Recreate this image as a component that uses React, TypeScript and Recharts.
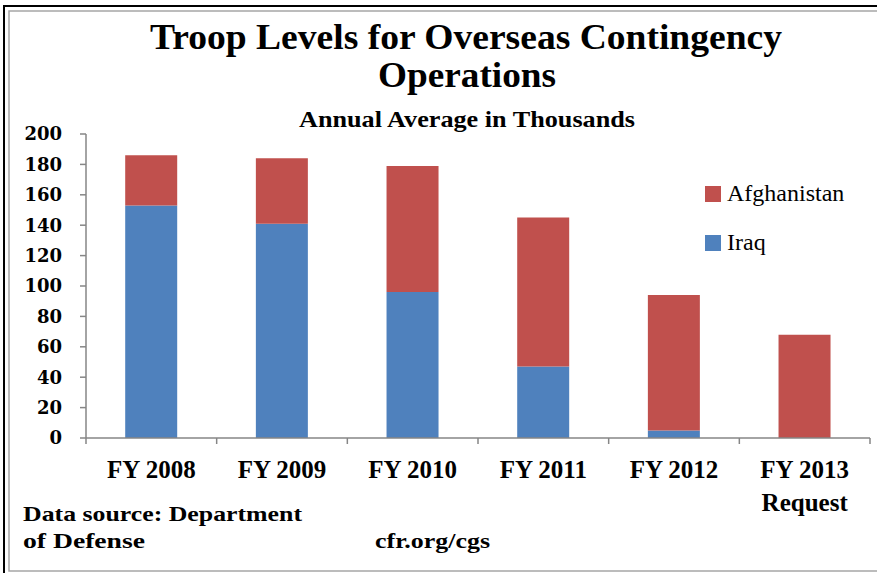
import { Bar, BarChart, XAxis, YAxis } from 'recharts'

const categories = ['FY 2008', 'FY 2009', 'FY 2010', 'FY 2011', 'FY 2012', 'FY 2013\nRequest']
const iraq = [153, 141, 96, 47, 5, 0]
const afghanistan = [33, 43, 83, 98, 89, 68]
const yTicks = [0, 20, 40, 60, 80, 100, 120, 140, 160, 180, 200]

const series = [
  { key: 'iraq', name: 'Iraq', color: '#4F81BD' },
  { key: 'afghanistan', name: 'Afghanistan', color: '#C0504D' },
]

const chartData = categories.map((label, i) => ({
  label,
  iraq: iraq[i],
  afghanistan: afghanistan[i],
}))

const W = 877
const H = 573
const AXIS_GREY = '#868686'
const TICK_SIZE = 6
const TICK_MARGIN = 2
const SERIF = '"Liberation Serif", "Times New Roman", serif'

function CategoryTick(props: any) {
  const { x, y, payload, index, width, visibleTicksCount } = props
  const band = width && visibleTicksCount ? width / visibleTicksCount : (payload?.offset ?? 0) * 2
  const axisY = y - TICK_SIZE - TICK_MARGIN
  const lines = String(payload.value).split('\n')
  const last = index === visibleTicksCount - 1
  return (
    <g>
      <line x1={x - band / 2} x2={x - band / 2} y1={axisY} y2={axisY + TICK_SIZE} stroke={AXIS_GREY} strokeWidth={1.5} />
      {last && (
        <line x1={x + band / 2} x2={x + band / 2} y1={axisY} y2={axisY + TICK_SIZE} stroke={AXIS_GREY} strokeWidth={1.5} />
      )}
      <text
        x={x}
        y={axisY + 40}
        textAnchor="middle"
        fontFamily={SERIF}
        fontWeight="bold"
        fontSize={25}
        fill="#000"
      >
        {lines.map((l, i) => (
          <tspan key={i} x={x} dy={i === 0 ? 0 : 33}>
            {l}
          </tspan>
        ))}
      </text>
    </g>
  )
}

export default function App() {
  const legendItems = [...series].reverse()
  return (
    <div style={{ position: 'absolute', left: 0, top: 0, width: W, height: H, background: '#fff' }}>
      <BarChart
        width={W}
        height={H}
        data={chartData}
        margin={{ top: 134, right: 7, bottom: 95, left: 0 }}
        barCategoryGap="30%"
      >
        <XAxis
          dataKey="label"
          interval={0}
          height={40}
          tickLine={false}
          tickSize={TICK_SIZE}
          tickMargin={TICK_MARGIN}
          axisLine={{ stroke: AXIS_GREY, strokeWidth: 1.5 }}
          tick={<CategoryTick />}
        />
        <YAxis
          width={86}
          domain={[0, 200]}
          ticks={yTicks}
          interval={0}
          tickSize={TICK_SIZE}
          tickMargin={18}
          axisLine={{ stroke: AXIS_GREY, strokeWidth: 1.5 }}
          tickLine={{ stroke: AXIS_GREY, strokeWidth: 1.5 }}
          tick={{ fontFamily: '"DejaVu Serif", serif', fontWeight: 'bold', fontSize: 18, fill: '#000' }}
        />
        {series.map((s) => (
          <Bar key={s.key} dataKey={s.key} name={s.name} stackId="troops" fill={s.color} isAnimationActive={false} />
        ))}
      </BarChart>

      <svg width={W} height={H} style={{ position: 'absolute', left: 0, top: 0, pointerEvents: 'none' }}>
        {/* frame */}
        <path d={`M4,${H} V6 H${W}`} fill="none" stroke="#000" strokeWidth={2} />
        <rect x={9} y={11} width={W + 10} height={560} fill="none" stroke="#A6A6A6" strokeWidth={1.5} />

        {/* titles */}
        <g fontFamily={SERIF} fontWeight="bold" fill="#000" textAnchor="middle">
          <text x={466} y={49} fontSize={35} textLength={632} lengthAdjust="spacingAndGlyphs">
            Troop Levels for Overseas Contingency
          </text>
          <text x={467} y={87} fontSize={35} textLength={178} lengthAdjust="spacingAndGlyphs">
            Operations
          </text>
          <text x={467} y={127} fontSize={23} textLength={336} lengthAdjust="spacingAndGlyphs">
            Annual Average in Thousands
          </text>
        </g>

        {/* notes */}
        <g fontFamily={SERIF} fontWeight="bold" fontSize={22} fill="#000">
          <text x={23} y={521} textLength={279} lengthAdjust="spacingAndGlyphs">
            Data source: Department
          </text>
          <text x={23} y={548} textLength={122} lengthAdjust="spacingAndGlyphs">
            of Defense
          </text>
          <text x={375} y={548} textLength={115} lengthAdjust="spacingAndGlyphs">
            cfr.org/cgs
          </text>
        </g>

        {/* legend */}
        <g fontFamily={SERIF} fontSize={24} fill="#000">
          {legendItems.map((s, i) => (
            <g key={s.key}>
              <rect x={705} y={186 + i * 49} width={16} height={16} fill={s.color} />
              <text x={727} y={201 + i * 49}>
                {s.name}
              </text>
            </g>
          ))}
        </g>
      </svg>
    </div>
  )
}
